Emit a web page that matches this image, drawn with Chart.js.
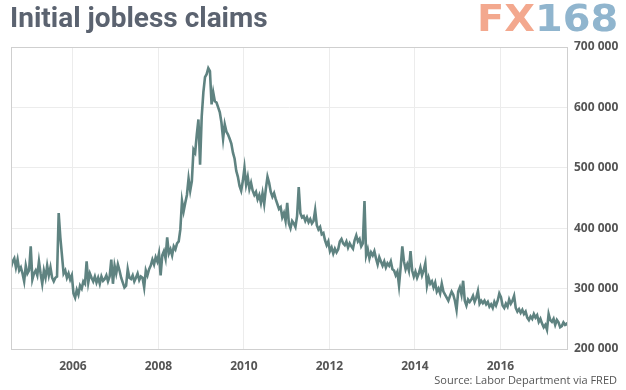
<!DOCTYPE html>
<html>
<head>
<meta charset="utf-8">
<script src="https://cdn.jsdelivr.net/npm/chart.js@4/dist/chart.umd.min.js"></script>
<style>
  html, body { margin: 0; padding: 0; background: #fff; }
  #wrap { position: relative; width: 626px; height: 390px; overflow: hidden; }
  #title { position: absolute; left: 10px; top: 1px; font-family: Roboto, "Open Sans", sans-serif; font-weight: 700; font-size: 28px; line-height: 34px; color: #5b6370; white-space: nowrap; }
  #logo { position: absolute; left: 477px; top: -3px; font-family: "DejaVu Sans", sans-serif; font-weight: 700; font-size: 38px; line-height: 42px; white-space: nowrap; transform: scaleX(1.05); transform-origin: left top; }
  #logo .fx { color: #f3a88e; }
  #logo .num { color: #90b5ce; }
  #source { position: absolute; right: 9px; top: 372px; font-family: "Open Sans", sans-serif; font-size: 11px; line-height: 16px; color: #555; white-space: nowrap; }
  canvas { position: absolute; left: 0; top: 0; }
</style>
</head>
<body>
<div id="wrap">
  <canvas id="c" width="626" height="390"></canvas>
  <div id="title">Initial jobless claims</div>
  <div id="logo"><span class="fx">FX</span><span class="num">168</span></div>
  <div id="source">Source: Labor Department via FRED</div>
</div>
<script>
// Initial jobless claims read every two weeks, thousands, starting mid-2004
const startYear = 2004.55;
const stepYears = 1 / 26;
const claims = [
  335,345,350,335,348,330,335,325,312,338,325,330,370,315,325,330,322,345,325,308,
  330,318,338,322,335,318,312,318,320,425,385,355,325,330,318,325,315,322,292,285,
  298,290,305,300,312,308,345,310,325,318,312,320,310,318,308,320,313,316,322,312,
  320,348,308,338,325,340,330,318,310,302,305,332,318,316,322,312,318,325,314,320,
  318,302,330,322,332,338,348,340,352,345,358,322,355,362,350,385,358,365,355,370,
  365,375,378,398,445,428,442,455,482,462,478,530,525,555,580,505,585,625,650,655,
  665,660,605,625,610,608,600,592,575,548,572,560,555,548,540,525,515,495,485,470,
  462,478,500,472,485,465,475,462,455,460,448,455,442,458,440,465,485,475,460,452,
  458,448,440,432,435,418,425,412,442,408,400,412,408,402,420,468,425,418,420,412,
  418,410,415,408,412,430,405,398,402,390,392,380,372,378,362,368,358,366,360,365,
  378,382,375,372,378,368,375,370,366,380,388,378,382,370,375,445,355,365,350,360,
  355,362,350,340,352,345,338,345,335,342,338,345,332,330,322,328,305,335,370,345,
  332,340,330,362,330,320,328,318,325,335,322,330,342,305,318,308,312,302,310,295,
  300,292,308,295,290,285,280,288,295,290,280,265,295,302,290,313,280,272,282,278,
  282,288,278,285,296,275,280,276,280,274,278,270,274,268,278,272,280,292,286,272,
  268,275,270,282,275,280,288,268,262,266,260,265,258,262,252,248,254,250,258,252,
  256,245,250,242,236,240,232,258,248,245,250,240,248,244,236,238,244,240,242,238
];
const xTickYears = [2006, 2008, 2010, 2012, 2014, 2016];
const yTickValues = [200, 300, 400, 500, 600, 700];
const xMin = 2004.55, xMax = 2017.58;

const points = claims.map((v, i) => ({ x: startYear + i * stepYears, y: v }));

const frame = {
  id: 'frame',
  afterDraw(chart) {
    const a = chart.chartArea, ctx = chart.ctx;
    ctx.save();
    ctx.strokeStyle = '#cfcfcf';
    ctx.lineWidth = 1;
    ctx.strokeRect(Math.round(a.left) + 0.5, Math.round(a.top) + 0.5, Math.round(a.right - a.left) - 1, Math.round(a.bottom - a.top));
    ctx.restore();
  }
};

new Chart(document.getElementById('c'), {
  type: 'line',
  data: {
    datasets: [{
      data: points,
      borderColor: '#5f8381',
      borderWidth: 2.6,
      pointRadius: 0,
      tension: 0,
      fill: false
    }]
  },
  options: {
    responsive: false,
    animation: false,
    layout: { padding: { top: 47, left: 11, right: 0, bottom: 0 } },
    plugins: { legend: { display: false }, tooltip: { enabled: false }, title: { display: false } },
    scales: {
      x: {
        type: 'linear',
        min: xMin,
        max: xMax,
        afterBuildTicks: s => { s.ticks = xTickYears.map(v => ({ value: v })); },
        afterFit: s => { s.height = 41; },
        grid: { color: '#ececec', drawTicks: false, lineWidth: 1 },
        border: { display: false },
        ticks: {
          padding: 10,
          color: '#555',
          font: { family: 'Open Sans', size: 12, weight: 'bold' },
          callback: v => String(v),
          maxRotation: 0
        }
      },
      y: {
        position: 'right',
        min: 200,
        max: 700,
        afterBuildTicks: s => { s.ticks = yTickValues.map(v => ({ value: v })); },
        afterFit: s => { s.width = 58; },
        grid: { color: '#ececec', drawTicks: false, lineWidth: 1 },
        border: { display: false },
        ticks: {
          padding: 6,
          color: '#555',
          font: { family: 'Open Sans', size: 12, weight: 'bold' },
          callback: v => v + ' 000'
        }
      }
    }
  },
  plugins: [frame]
});
</script>
</body>
</html>
